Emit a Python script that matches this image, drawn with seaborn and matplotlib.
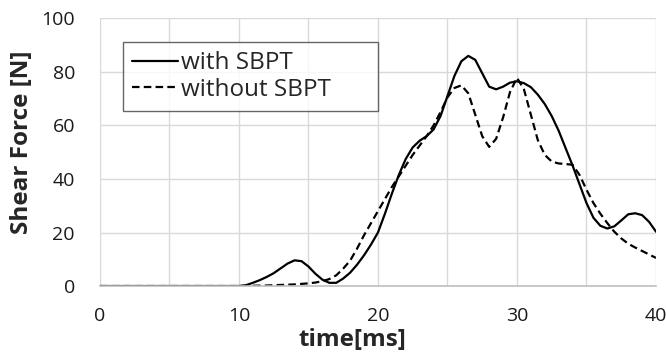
import numpy as np
import pandas as pd
import matplotlib
matplotlib.use("Agg")
import matplotlib.pyplot as plt
from matplotlib.ticker import MultipleLocator
import seaborn as sns

# values
t_with = [0, 10, 10.5, 11, 11.5, 12, 12.5, 13, 13.5, 14, 14.5, 15, 15.5, 16, 16.5, 17, 17.5,
          18, 18.5, 19, 19.5, 20, 20.5, 21, 21.5, 22, 22.5, 23, 23.5, 24, 24.5, 25, 25.5,
          26, 26.5, 27, 27.5, 28, 28.5, 29, 29.5, 30, 30.5, 31, 31.5, 32, 32.5, 33, 33.5,
          34, 34.5, 35, 35.5, 36, 36.5, 37, 37.5, 38, 38.5, 39, 39.5, 40]
f_with = [0, 0, 0.3, 1.2, 2.2, 3.4, 4.8, 6.6, 8.4, 9.6, 9.3, 7.3, 4.6, 2.4, 1.2, 1.2, 2.8,
          5.0, 8.0, 11.5, 15.5, 20, 27, 34.5, 41.5, 47.5, 51.8, 54.3, 56, 58.5, 63.5, 71, 78.5,
          84, 86, 84.5, 79.5, 74.5, 73.5, 74.5, 76, 76.5, 75.8, 74.3, 71.5, 68, 63.5, 58, 51.5,
          45, 38, 31, 25.5, 22.5, 21.5, 22.3, 24.5, 26.8, 27.2, 26.5, 24, 20.3]

t_without = [0, 10, 12, 14, 15, 15.5, 16, 16.5, 17, 17.5, 18, 18.5, 19, 19.5, 20, 20.5, 21,
             21.5, 22, 22.5, 23, 23.5, 24, 24.5, 25, 25.5, 26, 26.5, 27, 27.5, 28, 28.5, 29,
             29.5, 30, 30.5, 31, 31.5, 32, 32.5, 33, 33.5, 34, 34.5, 35, 35.5, 36, 36.5, 37,
             37.5, 38, 38.5, 39, 39.5, 40]
f_without = [0, 0, 0.2, 0.6, 1, 1.3, 1.8, 2.6, 4, 6.5, 9.5, 14, 19, 23.5, 28, 32.5, 37,
             41, 45, 49, 52.5, 56, 60, 65, 70.5, 74, 75, 72, 64, 56, 52, 55, 63,
             72.5, 77.8, 73.5, 64, 54.5, 49, 46.5, 45.8, 45.6, 45.3, 41.5, 36, 31, 27, 23.5, 20.3,
             17.8, 15.8, 14.4, 13.1, 11.8, 10.5]

labels = ["with SBPT", "without SBPT"]

df = pd.concat([
    pd.DataFrame({"time": t_with, "force": f_with, "series": labels[0]}),
    pd.DataFrame({"time": t_without, "force": f_without, "series": labels[1]}),
])

sns.set_style("white")
plt.rcParams["font.family"] = ["Open Sans", "DejaVu Sans"]

fig = plt.figure(figsize=(6.66, 3.54), dpi=100)
ax = fig.add_axes([0.150, 0.192, 0.835, 0.756])

sns.lineplot(data=df, x="time", y="force", style="series", color="black",
             dashes={labels[0]: "", labels[1]: (3.4, 1.9)}, linewidth=1.6,
             sort=False, estimator=None, ax=ax)

ax.set_xlim(0, 40)
ax.set_ylim(0, 100)
ax.xaxis.set_major_locator(MultipleLocator(10))
ax.xaxis.set_minor_locator(MultipleLocator(5))
ax.yaxis.set_major_locator(MultipleLocator(20))
ax.grid(True, which="both", axis="x", color="#d9d9d9", linewidth=1)
ax.grid(True, which="major", axis="y", color="#d9d9d9", linewidth=1)
ax.set_axisbelow(True)
ax.tick_params(which="both", length=0)
ax.tick_params(axis="x", pad=15, labelsize=14, labelcolor="#1a1a1a")
ax.tick_params(axis="y", pad=18, labelsize=14, labelcolor="#1a1a1a")

for s in ["top", "right", "left"]:
    ax.spines[s].set_visible(False)
ax.spines["bottom"].set_color("#bfbfbf")
ax.spines["bottom"].set_linewidth(1.2)

ax.set_xlabel("time[ms]", fontsize=17.5, fontweight="bold")
ax.set_ylabel("Shear Force [N]", fontsize=17.5, fontweight="bold")
ax.xaxis.set_label_coords(0.455, -0.155)
ax.yaxis.set_label_coords(-0.118, 0.539)

# legend box: 0.041..0.50 wide, top at 0.911 (axes coords)
leg = ax.legend(loc="upper left", bbox_to_anchor=(0.041, 0.65, 0.4586, 0.261),
                mode="expand", borderaxespad=0,
                fontsize=17.5, handlelength=1.9, handletextpad=0.1, fancybox=False,
                frameon=True, borderpad=0.38, labelspacing=0.1)
leg.get_frame().set_edgecolor("#404040")
leg.get_frame().set_linewidth(1)

fig.savefig("out.png", dpi=100)
